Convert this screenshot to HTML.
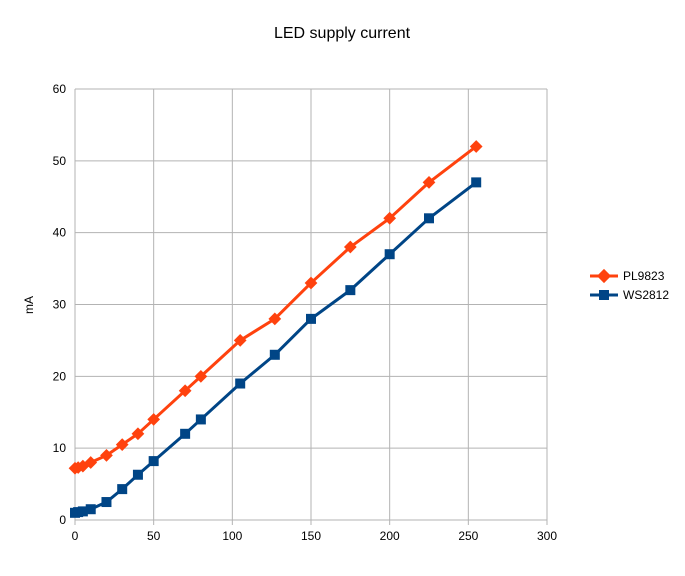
<!DOCTYPE html>
<html><head><meta charset="utf-8"><style>
body{margin:0;background:#fff;font-family:"Liberation Sans",sans-serif}
</style></head><body>
<svg id="c" width="685" height="571" xmlns="http://www.w3.org/2000/svg" font-family="Liberation Sans, sans-serif">
<text x="342" y="38" text-anchor="middle" font-size="16">LED supply current</text>
<text transform="translate(33,305) rotate(-90)" text-anchor="middle" font-size="12">mA</text>
<g id="grid"></g><g id="series"></g>
<g>
<g><line x1="590" y1="276" x2="618" y2="276" stroke="#ff420e" stroke-width="3"/><rect x="599" y="271" width="10" height="10" fill="#ff420e" transform="rotate(45 604 276)"/><text x="623" y="280" font-size="12">PL9823</text></g>
<g><line x1="590" y1="295" x2="618" y2="295" stroke="#004586" stroke-width="3"/><rect x="599" y="290" width="10" height="10" fill="#004586"/><text x="623" y="299" font-size="12">WS2812</text></g>
</g>
</svg>
<script>
const xs=[0,2,5,10,20,30,40,50,70,80,105,127,150,175,200,225,255];
const pl9823=[7.2,7.3,7.5,8,9,10.5,12,14,18,20,25,28,33,38,42,47,52];
const ws2812=[1,1.1,1.2,1.5,2.5,4.3,6.3,8.2,12,14,19,23,28,32,37,42,47];
const xTicks=[0,50,100,150,200,250,300];
const yTicks=[0,10,20,30,40,50,60];
const X=v=>75+v*(472/300), Y=v=>520-v*(431/60);
const NS="http://www.w3.org/2000/svg";
function mk(t,a,p){const e=document.createElementNS(NS,t);for(const k in a)e.setAttribute(k,a[k]);p.appendChild(e);return e;}
const g=document.getElementById('grid');
yTicks.forEach(v=>{const l=mk('line',{x1:75,x2:547,y1:Y(v),y2:Y(v),stroke:'#b3b3b3'},g);


const t=mk('text',{x:66,y:Y(v)+4,'text-anchor':'end','font-size':12},g);t.textContent=v;

});
xTicks.forEach(v=>{const l=mk('line',{x1:X(v),x2:X(v),y1:89,y2:525,stroke:'#b3b3b3'},g);


const t=mk('text',{x:X(v),y:540,'text-anchor':'middle','font-size':12},g);t.textContent=v;

});
const s=document.getElementById('series');
function draw(vals,col,shape,name){
const p=mk('polyline',{points:xs.map((x,i)=>X(x)+','+Y(vals[i])).join(' '),fill:'none',stroke:col,'stroke-width':3,'stroke-linejoin':'round'},s);


xs.forEach((x,i)=>{const cx=X(x),cy=Y(vals[i]);
const m=mk('rect',{x:cx-5,y:cy-5,width:10,height:10,fill:col},s);
if(shape==='d'){m.setAttribute('transform','rotate(45 '+cx+' '+cy+')');m.setAttribute('width',9);m.setAttribute('height',9);m.setAttribute('x',cx-4.5);m.setAttribute('y',cy-4.5);}

});}
draw(pl9823,'#ff420e','d','pl9823');
draw(ws2812,'#004586','s','ws2812');
</script>
</body></html>
